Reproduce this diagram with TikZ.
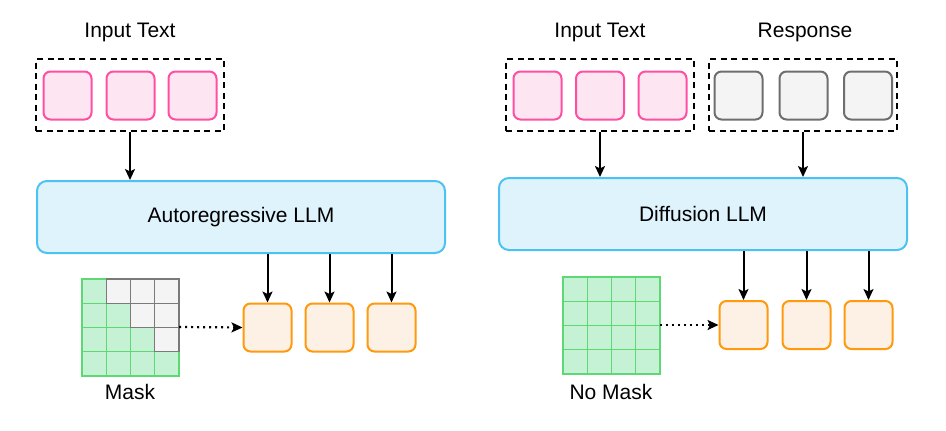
\documentclass[tikz,border=0pt]{standalone}
\usepackage{fontspec}
\setmainfont{Liberation Sans}
\usetikzlibrary{arrows.meta,positioning}
\definecolor{pinkD}{HTML}{FF4FA3}
\definecolor{pinkF}{HTML}{FDE6F1}
\definecolor{grayD}{HTML}{6E6E6E}
\definecolor{grayF}{HTML}{F4F4F4}
\definecolor{oranD}{HTML}{FF9A0F}
\definecolor{oranF}{HTML}{FDF0E4}
\definecolor{blueD}{HTML}{4CC2F2}
\definecolor{blueF}{HTML}{DFF3FD}
\definecolor{greenD}{HTML}{5ED872}
\definecolor{greenF}{HTML}{C5F2D4}
\definecolor{cellD}{HTML}{7A7A7A}
\tikzset{
  tok/.style={draw, line width=2pt, rounded corners=7pt, minimum width=48pt, minimum height=48pt, inner sep=0pt},
  intok/.style={tok, draw=pinkD, fill=pinkF},
  restok/.style={tok, draw=grayD, fill=grayF},
  outtok/.style={tok, draw=oranD, fill=oranF},
  grp/.style={draw=black, line width=2pt, dash pattern=on 6pt off 4.5pt, inner sep=0pt},
  llm/.style={draw=blueD, fill=blueF, line width=2pt, rounded corners=10pt, inner sep=0pt, font=\fontsize{21}{24}\selectfont},
  lbl/.style={font=\fontsize{21}{24}\selectfont, inner sep=0pt},
  arr/.style={line width=2pt, -{Stealth[length=11pt,width=10pt,inset=2.5pt]}},
  dotarr/.style={line width=2.2pt, dash pattern=on 2pt off 4pt, -{Stealth[length=11pt,width=10pt,inset=2.5pt]}},
  gcell/.style={draw=greenD, fill=greenF, line width=1.3pt, minimum size=24.25pt, inner sep=0pt},
  wcell/.style={draw=cellD, fill=grayF, line width=1.3pt, minimum size=24.25pt, inner sep=0pt},
  gridbox/.style={minimum size=97pt, inner sep=0pt},
}
\begin{document}
\begin{tikzpicture}[x=1pt,y=-1pt]
\useasboundingbox (0,0) rectangle (946,431);
% ---------- Left ----------
\node[lbl] (tInL) at (130,32) {Input Text};
\node[grp, minimum width=188pt, minimum height=72pt] (boxL) at (130,95) {};
\node[intok] (pL1) at (67.5,95.5) {};
\node[intok] (pL2) at (130.5,95.5) {};
\node[intok] (pL3) at (192.5,95.5) {};
\node[llm, minimum width=408pt, minimum height=72pt] (llmL) at (241,217) {Autoregressive LLM};
\node[outtok] (oL1) at (267.5,327.5) {};
\node[outtok] (oL2) at (329.5,327.5) {};
\node[outtok] (oL3) at (391.5,327.5) {};
\node[gridbox] (gridL) at (130.5,327) {};
\foreach \r in {0,...,3}{
  \foreach \c in {0,...,3}{
    \ifnum\c>\r\else
      \node[gcell] (gL\r\c) at ({82+24.25*\c+12.125},{279+24.25*\r+12.125}) {};
    \fi
  }
}
\foreach \r in {0,...,3}{
  \foreach \c in {0,...,3}{
    \ifnum\c>\r
      \node[wcell] (gL\r\c) at ({82+24.25*\c+12.125},{279+24.25*\r+12.125}) {};
    \fi
  }
}
\node[lbl] (mL) at (130,392) {Mask};
\draw[arr] (boxL.south) -- (boxL.south |- llmL.north);
\draw[arr] (oL1.north |- llmL.south) -- (oL1.north);
\draw[arr] (oL2.north |- llmL.south) -- (oL2.north);
\draw[arr] (oL3.north |- llmL.south) -- (oL3.north);
\draw[dotarr] (gridL.east) -- (oL1.west);
% ---------- Right ----------
\node[lbl] (tInR) at (600,32) {Input Text};
\node[lbl] (tResR) at (805,32) {Response};
\node[grp, minimum width=188pt, minimum height=72pt] (boxR1) at (600,95) {};
\node[grp, minimum width=188pt, minimum height=72pt] (boxR2) at (803,95) {};
\node[intok] (pR1) at (537.5,95.5) {};
\node[intok] (pR2) at (600,95.5) {};
\node[intok] (pR3) at (662.5,95.5) {};
\node[restok] (rR1) at (738.5,95.5) {};
\node[restok] (rR2) at (803.5,95.5) {};
\node[restok] (rR3) at (868,95.5) {};
\node[llm, minimum width=408pt, minimum height=72pt] (llmR) at (703,214) {Diffusion LLM};
\node[outtok] (oR1) at (743.5,325) {};
\node[outtok] (oR2) at (806.5,325) {};
\node[outtok] (oR3) at (868.5,325) {};
\node[gridbox] (gridR) at (611.5,325) {};
\foreach \r in {0,...,3}{
  \foreach \c in {0,...,3}{
    \node[gcell] (gR\r\c) at ({563+24.25*\c+12.125},{277+24.25*\r+12.125}) {};
  }
}
\node[lbl] (mR) at (611,392) {No Mask};
\draw[arr] (boxR1.south) -- (boxR1.south |- llmR.north);
\draw[arr] (boxR2.south) -- (boxR2.south |- llmR.north);
\draw[arr] (oR1.north |- llmR.south) -- (oR1.north);
\draw[arr] (oR2.north |- llmR.south) -- (oR2.north);
\draw[arr] (oR3.north |- llmR.south) -- (oR3.north);
\draw[dotarr] (gridR.east) -- (oR1.west);
\end{tikzpicture}
\end{document}
